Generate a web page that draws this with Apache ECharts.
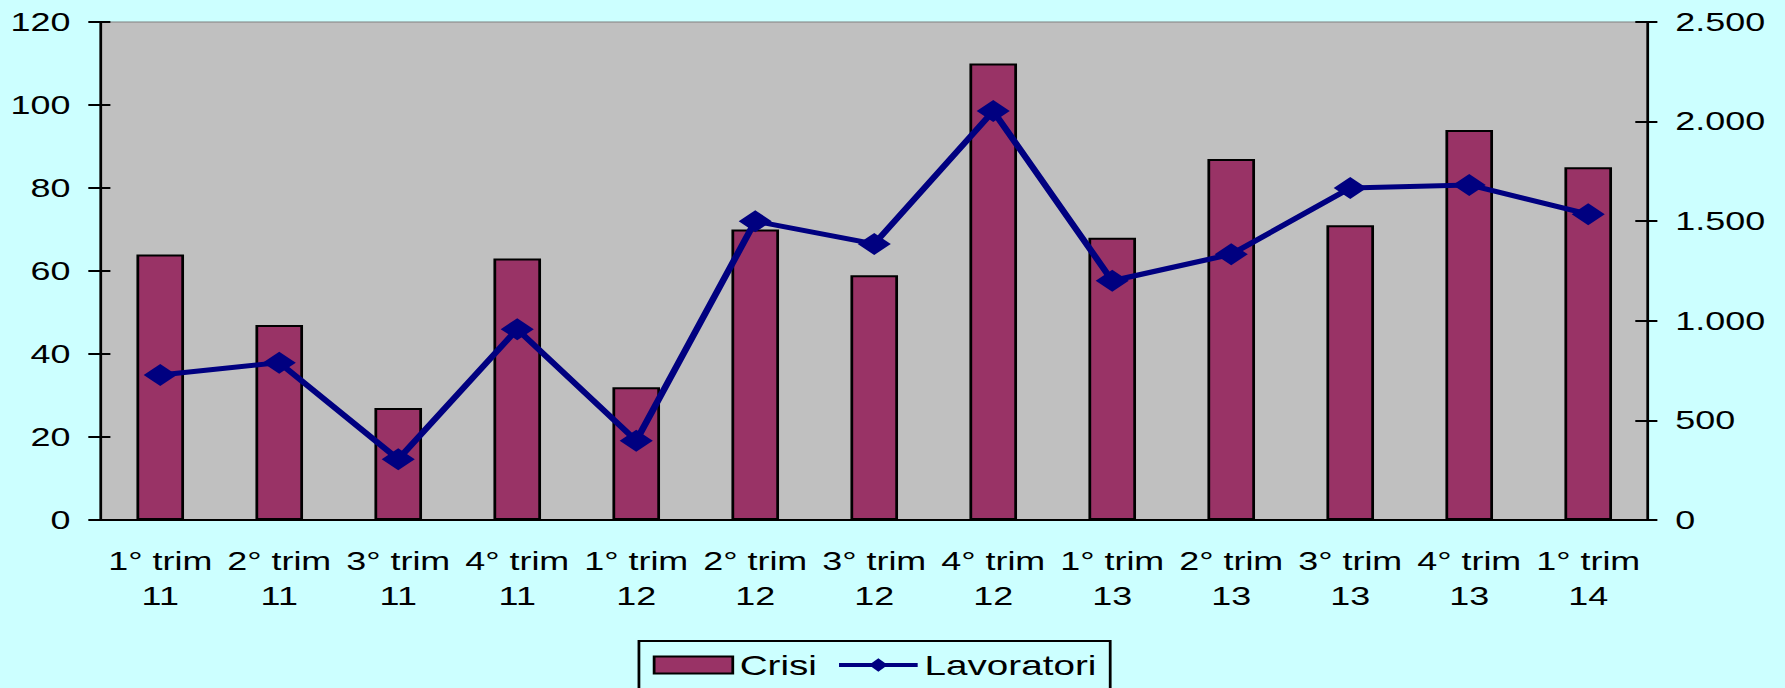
<!DOCTYPE html>
<html lang="it">
<head>
    <meta charset="UTF-8">
    <style>
        html, body { margin: 0; padding: 0; background: #ccffff; overflow: hidden; }
        /* l'originale e' stirato in orizzontale: disegno stretto e poi allargo */
        #main {
            width: 1294px;
            height: 688px;
            transform: scaleX(1.38);
            transform-origin: 0 0;
        }
    </style>
    <title>Crisi e Lavoratori</title>
</head>
<body>
    <div id="main"></div>
    <script src="https://cdn.jsdelivr.net/npm/echarts@6/dist/echarts.min.js"></script>
    <script>
        var categories = ['1° trim\n11', '2° trim\n11', '3° trim\n11', '4° trim\n11',
            '1° trim\n12', '2° trim\n12', '3° trim\n12', '4° trim\n12',
            '1° trim\n13', '2° trim\n13', '3° trim\n13', '4° trim\n13', '1° trim\n14'];
        var crisi = [64, 47, 27, 63, 32, 70, 59, 110, 68, 87, 71, 94, 85];
        var lavoratori = [728, 790, 305, 958, 398, 1500, 1386, 2053, 1201, 1334, 1667, 1682, 1535];

        var font = 'Liberation Sans, Arial, sans-serif';

        // migliaia col punto, come nell'originale
        function fmtIt(v) {
            return String(v).replace(/\B(?=(\d{3})+(?!\d))/g, '.');
        }

        var option = {
            backgroundColor: '#ccffff',
            animation: false,
            textStyle: { fontFamily: font },
            grid: {
                left: 73, right: 100, top: 22, bottom: 168,
                show: true,
                backgroundColor: '#c0c0c0',
                borderColor: '#808080',
                borderWidth: 1
            },
            legend: {
                left: 463,
                top: 641,
                padding: [10, 10, 20, 10],
                itemGap: 14,
                itemWidth: 57,
                itemHeight: 17,
                borderColor: '#000',
                borderWidth: 2,
                textStyle: { fontSize: 28, color: '#000', fontFamily: font },
                data: [
                    { name: 'Crisi', icon: 'rect' },
                    { name: 'Lavoratori', lineStyle: { width: 4 } }
                ]
            },
            xAxis: [{
                type: 'category',
                data: categories,
                axisLine: { lineStyle: { color: '#000', width: 2 } },
                axisTick: { length: 8, lineStyle: { color: '#000', width: 2 } },
                axisLabel: {
                    color: '#000', fontSize: 26, lineHeight: 35, margin: 24,
                    interval: 0, fontFamily: font
                }
            }],
            yAxis: [{
                type: 'value',
                min: 0, max: 120, interval: 20,
                position: 'left',
                splitLine: { show: false },
                axisLine: { show: true, lineStyle: { color: '#000', width: 2 } },
                axisTick: { show: true, length: 9, lineStyle: { color: '#000', width: 2 } },
                axisLabel: { color: '#000', fontSize: 26, margin: 22, fontFamily: font }
            }, {
                type: 'value',
                min: 0, max: 2500, interval: 500,
                position: 'right',
                splitLine: { show: false },
                axisLine: { show: true, lineStyle: { color: '#000', width: 2 } },
                axisTick: { show: true, length: 7, lineStyle: { color: '#000', width: 2 } },
                axisLabel: { color: '#000', fontSize: 26, margin: 20, fontFamily: font, formatter: fmtIt }
            }, {
                // tacche interne asse sinistro
                type: 'value',
                min: 0, max: 120, interval: 20,
                position: 'left',
                splitLine: { show: false },
                axisLine: { show: false },
                axisTick: { show: true, inside: true, length: 7, lineStyle: { color: '#000', width: 2 } },
                axisLabel: { show: false }
            }, {
                // tacche interne asse destro
                type: 'value',
                min: 0, max: 2500, interval: 500,
                position: 'right',
                splitLine: { show: false },
                axisLine: { show: false },
                axisTick: { show: true, inside: true, length: 9, lineStyle: { color: '#000', width: 2 } },
                axisLabel: { show: false }
            }],
            series: [{
                name: 'Crisi',
                type: 'bar',
                yAxisIndex: 0,
                barWidth: '40%',
                itemStyle: { color: '#993366', borderColor: '#000', borderWidth: 2 },
                data: crisi
            }, {
                name: 'Lavoratori',
                type: 'line',
                yAxisIndex: 1,
                symbol: 'diamond',
                symbolSize: [24, 22],
                showAllSymbol: true,
                lineStyle: { color: '#000080', width: 5 },
                itemStyle: { color: '#000080' },
                data: lavoratori
            }]
        };

        var myChart = echarts.init(document.getElementById('main'), null, { renderer: 'svg' });
        myChart.setOption(option);
    </script>
</body>
</html>
